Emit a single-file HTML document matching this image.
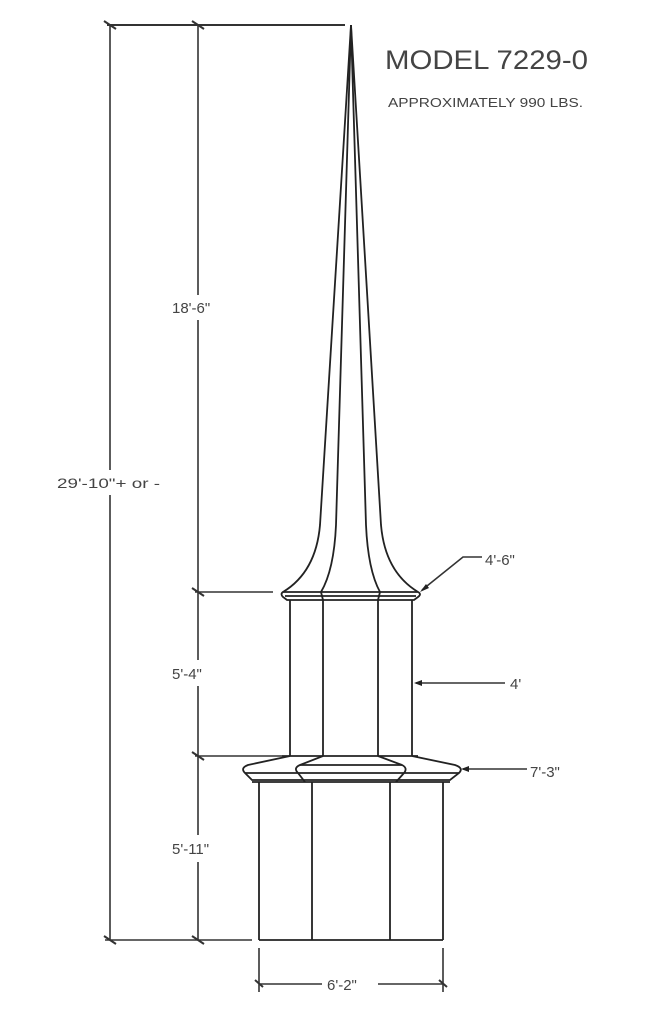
<!DOCTYPE html>
<html><head><style>
html,body{margin:0;padding:0;background:#fff}
svg{display:block}
text{font-family:"Liberation Sans",sans-serif;fill:#444}
</style></head><body>
<svg width="651" height="1024" viewBox="0 0 651 1024" xmlns="http://www.w3.org/2000/svg">
<g stroke="#333" stroke-width="1.6" fill="none">
<!-- dimension lines -->
<line x1="107" y1="25" x2="345" y2="25" stroke-width="2"/>
<line x1="110" y1="25" x2="110" y2="470"/>
<line x1="110" y1="495" x2="110" y2="940"/>
<line x1="198" y1="25" x2="198" y2="295"/>
<line x1="198" y1="320" x2="198" y2="592"/>
<line x1="198" y1="592" x2="198" y2="660"/>
<line x1="198" y1="686" x2="198" y2="756"/>
<line x1="198" y1="756" x2="198" y2="835"/>
<line x1="198" y1="862" x2="198" y2="940"/>
<line x1="195" y1="592" x2="273" y2="592"/>
<line x1="195" y1="756" x2="282" y2="756"/>
<line x1="105" y1="940" x2="252" y2="940"/>
<!-- ticks -->
<g stroke-width="2">
<line x1="104" y1="21" x2="116" y2="29"/><line x1="192" y1="21" x2="204" y2="29"/>
<line x1="192" y1="588" x2="204" y2="596"/><line x1="192" y1="752" x2="204" y2="760"/>
<line x1="104" y1="936" x2="116" y2="944"/><line x1="192" y1="936" x2="204" y2="944"/>
<line x1="255" y1="980" x2="263" y2="987"/><line x1="439" y1="980" x2="447" y2="987"/>
</g>
<line x1="259" y1="948" x2="259" y2="992"/>
<line x1="443" y1="948" x2="443" y2="992"/>
<line x1="259" y1="984" x2="322" y2="984"/>
<line x1="378" y1="984" x2="443" y2="984"/>
<!-- leaders -->
<polyline points="482,557 463,557 422,590"/>
<line x1="505" y1="683" x2="416" y2="683"/>
<line x1="527" y1="769" x2="463" y2="769"/>
</g>
<g fill="#222">
<polygon points="420,592 426,584 429,588"/>
<polygon points="414,683 422,680 422,686"/>
<polygon points="461,769 469,766 469,772"/>
</g>
<!-- spire -->
<g stroke="#222" stroke-width="1.8" fill="none">
<path d="M351,25 L320,525 Q316,572 283,592"/>
<path d="M351,25 L381,525 Q385,572 418,592"/>
<path d="M351,25 L336,525 Q334,570 321,592"/>
<path d="M351,25 L366,525 Q368,570 380,592"/>
<!-- collar -->
<path d="M283,592 L418,592 Q422,594 418,597 L414,600 L287,600 L283,597 Q280,594 283,592 Z"/>
<line x1="285" y1="596" x2="416" y2="596"/>
<line x1="321" y1="592" x2="323" y2="600"/><line x1="380" y1="592" x2="378" y2="600"/>
<!-- middle -->
<line x1="290" y1="600" x2="290" y2="756"/>
<line x1="323" y1="600" x2="323" y2="756"/>
<line x1="378" y1="600" x2="378" y2="756"/>
<line x1="412" y1="600" x2="412" y2="756"/>
<line x1="282" y1="756" x2="418" y2="756"/>
<!-- skirt -->
<path d="M290,756 L248,765 Q240,768 245,773 L252,780 L450,780 L459,773 Q464,768 455,765 L412,756"/>
<path d="M323,756 L300,765 Q293,768 298,773 L305,782"/>
<path d="M378,756 L402,765 Q408,768 404,773 L396,782"/>
<line x1="300" y1="765" x2="402" y2="765"/>
<line x1="245" y1="773" x2="459" y2="773"/>
<line x1="252" y1="782" x2="450" y2="782"/>
<!-- base -->
<line x1="259" y1="782" x2="259" y2="940"/>
<line x1="312" y1="782" x2="312" y2="940"/>
<line x1="390" y1="782" x2="390" y2="940"/>
<line x1="443" y1="782" x2="443" y2="940"/>
<line x1="259" y1="940" x2="443" y2="940"/>
</g>
<!-- text -->
<text x="385" y="69" font-size="27" textLength="203" lengthAdjust="spacingAndGlyphs" style="font-weight:300">MODEL 7229-0</text>
<text x="388" y="107" font-size="13" textLength="195" lengthAdjust="spacingAndGlyphs">APPROXIMATELY 990 LBS.</text>
<text x="172" y="313" font-size="15">18'-6"</text>
<text x="57" y="488" font-size="14" textLength="103" lengthAdjust="spacingAndGlyphs">29'-10"+ or -</text>
<text x="172" y="679" font-size="15">5'-4"</text>
<text x="172" y="854" font-size="15">5'-11"</text>
<text x="485" y="565" font-size="15">4'-6"</text>
<text x="510" y="689" font-size="15">4'</text>
<text x="530" y="777" font-size="15">7'-3"</text>
<text x="327" y="990" font-size="15">6'-2"</text>
</svg>
</body></html>
